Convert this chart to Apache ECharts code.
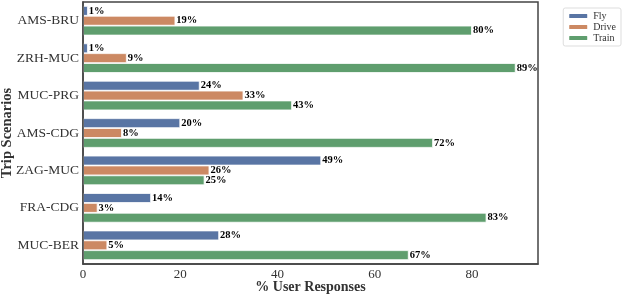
<!DOCTYPE html>
<html><head><meta charset="utf-8">
<script src="https://cdn.jsdelivr.net/npm/echarts@6/dist/echarts.min.js"></script>
<style>html,body{margin:0;padding:0;background:#fff}#c{width:623px;height:297px}</style>
</head><body><div id="c"></div>
<script>
const categories = ['AMS-BRU','ZRH-MUC','MUC-PRG','AMS-CDG','ZAG-MUC','FRA-CDG','MUC-BER'];
const fly = [1, 1, 24, 20, 49, 14, 28];
const drive = [19, 9, 33, 8, 26, 3, 5];
const train = [80, 89, 43, 72, 25, 83, 67];
const xTicks = [0, 20, 40, 60, 80];

const serif = '"Liberation Serif", "DejaVu Serif", serif';
const chart = echarts.init(document.getElementById('c'), null, {renderer:'canvas'});
function mk(name, data, color){
  return {
    name, type:'bar', data,
    barGap:'0%', barCategoryGap:'21%',
    itemStyle:{color, borderColor:'#fff', borderWidth:0.8},
    label:{show:true, position:'right', distance:1, formatter: p => p.value + '%',
      fontFamily:serif, fontWeight:'bold', fontSize:10.5, color:'#000'}
  };
}
chart.setOption({
  animation:false,
  grid:{left:83, right:85, top:2, bottom:33, outerBoundsMode:'none', containLabel:false,
    show:true, borderColor:'#444', borderWidth:1.5},
  legend:{
    right:2, top:8, orient:'vertical', itemWidth:20, itemHeight:6, itemGap:1, itemTextGap:6,
    padding:[3,5,3,4], borderColor:'#ddd', borderWidth:1, borderRadius:2,
    textStyle:{fontFamily:serif, fontSize:10, color:'#333'},
    data:['Fly','Drive','Train']
  },
  xAxis:{
    type:'value', min:0, max:93.6, interval:20, z:10,
    axisLine:{show:true, lineStyle:{color:'#444', width:1.5}},
    axisTick:{show:false}, splitLine:{show:false},
    axisLabel:{fontFamily:serif, fontSize:13, color:'#333', margin:4,
      formatter: v => xTicks.includes(v) ? String(v) : ''},
    name:'% User Responses', nameLocation:'middle', nameGap:16, nameMoveOverlap:false,
    nameTextStyle:{fontFamily:serif, fontWeight:'bold', fontSize:14, color:'#333'}
  },
  yAxis:{
    type:'category', data:categories, inverse:true, z:10,
    axisLine:{show:true, lineStyle:{color:'#444', width:1.5}},
    axisTick:{show:false},
    axisLabel:{fontFamily:serif, fontSize:13.5, color:'#333', margin:4},
    name:'Trip Scenarios', nameLocation:'middle', nameGap:68, nameRotate:90, nameMoveOverlap:false,
    nameTextStyle:{fontFamily:serif, fontWeight:'bold', fontSize:14.5, color:'#333'}
  },
  series:[mk('Fly', fly, '#5975a4'), mk('Drive', drive, '#cc8963'), mk('Train', train, '#5f9e6e')]
});
</script></body></html>
